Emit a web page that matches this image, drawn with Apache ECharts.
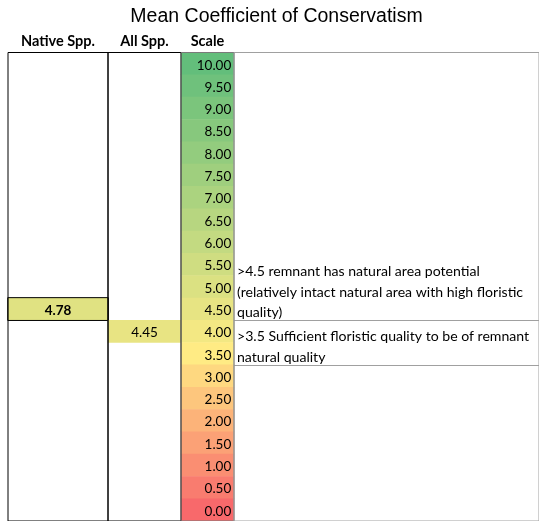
<!DOCTYPE html>
<html>
<head>
<meta charset="utf-8">
<script src="https://cdn.jsdelivr.net/npm/echarts@6/dist/echarts.min.js"></script>
<style>
html,body{margin:0;padding:0;background:#fff;}
#chart{width:539px;height:521px;}
</style>
</head>
<body>
<div id="chart"></div>
<script>
const chartTitle = 'Mean Coefficient of Conservatism';
const columns = ['Native Spp.', 'All Spp.', 'Scale'];
const scaleLabels = ['10.00','9.50','9.00','8.50','8.00','7.50','7.00','6.50','6.00','5.50','5.00','4.50','4.00','3.50','3.00','2.50','2.00','1.50','1.00','0.50','0.00'];
const scaleValues = [10, 9.5, 9, 8.5, 8, 7.5, 7, 6.5, 6, 5.5, 5, 4.5, 4, 3.5, 3, 2.5, 2, 1.5, 1, 0.5, 0];
const nativeSpp = [4.78];
const allSpp = [4.45];
// each note: [top row, bottom row] of the cell it sits in
const noteSpans = [['4.50', '4.50'], ['4.00', '3.50']];
const noteLines = [
  ['>4.5 remnant has natural area potential', '(relatively intact natural area with high floristic', 'quality)'],
  ['>3.5 Sufficient floristic quality to be of remnant', 'natural quality']
];
const noteBoxed = [false, true];

// Excel-like 3 colour scale
const colorStops = [[0, [248, 105, 107]], [3.5, [255, 235, 132]], [10, [99, 190, 123]]];
function cellColor(v) {
  let a = colorStops[0], b = colorStops[colorStops.length - 1];
  for (let i = 0; i < colorStops.length - 1; i++) {
    if (v >= colorStops[i][0] && v <= colorStops[i + 1][0]) { a = colorStops[i]; b = colorStops[i + 1]; break; }
  }
  const t = (v - a[0]) / (b[0] - a[0]);
  const c = a[1].map((x, k) => Math.round(x + (b[1][k] - x) * t));
  return 'rgb(' + c.join(',') + ')';
}
function rowOf(v) { return scaleValues.findIndex(s => s <= v); }

const FONT = 'Lato';
const TOP = 52.5, H = 472.5;
const grids = [
  {left: 8, width: 100, top: TOP, height: H, show: true, borderColor: '#000', borderWidth: 1, z: 5},
  {left: 108, width: 73, top: TOP, height: H, show: true, borderColor: '#000', borderWidth: 1, z: 5},
  {left: 181, width: 53, top: TOP, height: H, show: true, borderColor: '#7a7a7a', borderWidth: 1, z: 5},
  {left: 234, width: 320, top: TOP, height: H, show: true, borderColor: '#a0a0a0', borderWidth: 1, z: 5}
];
const xAxes = [0, 1, 2, 3].map(i => ({
  type: 'category', gridIndex: i, position: 'top',
  data: i < 3 ? [columns[i]] : [''],
  axisLine: {show: false}, axisTick: {show: false}, splitLine: {show: false},
  axisLabel: {show: i < 3, fontFamily: FONT, fontWeight: 'bold', fontSize: 14.5, color: '#000', margin: 4}
}));
const yAxes = [0, 1, 2, 3].map(i => ({
  type: 'category', gridIndex: i, inverse: true, data: scaleLabels,
  axisLine: {show: false}, axisTick: {show: false}, axisLabel: {show: false}, splitLine: {show: false}
}));

const labelBase = {show: true, fontFamily: FONT, fontSize: 13.5, color: '#000', offset: [0, 1.5]};

const series = [
  {
    type: 'heatmap', xAxisIndex: 0, yAxisIndex: 0,
    data: nativeSpp.map(v => ({value: [0, rowOf(v), v], itemStyle: {color: cellColor(v), borderColor: '#000', borderWidth: 1}})),
    label: Object.assign({}, labelBase, {fontWeight: 'bold', formatter: p => p.value[2].toFixed(2)}),
    emphasis: {disabled: true}
  },
  {
    type: 'heatmap', xAxisIndex: 1, yAxisIndex: 1,
    data: allSpp.map(v => ({value: [0, rowOf(v), v], itemStyle: {color: cellColor(v)}})),
    label: Object.assign({}, labelBase, {formatter: p => p.value[2].toFixed(2)}),
    emphasis: {disabled: true}
  },
  {
    type: 'heatmap', xAxisIndex: 2, yAxisIndex: 2,
    data: scaleValues.map((v, i) => ({value: [0, i, v], itemStyle: {color: cellColor(v)}})),
    label: Object.assign({}, labelBase, {position: 'insideRight', distance: 3, formatter: p => scaleLabels[p.value[1]]}),
    emphasis: {disabled: true}
  },
  {
    type: 'custom', xAxisIndex: 3, yAxisIndex: 3,
    data: noteSpans.map((s, i) => [0, scaleLabels.indexOf(s[0]), scaleLabels.indexOf(s[1]), i]),
    renderItem: function (params, api) {
      const r0 = api.value(1), r1 = api.value(2), n = api.value(3);
      const h = api.size([0, 1])[1];
      const top = api.coord([0, r0])[1] - h / 2;
      const bottom = api.coord([0, r1])[1] + h / 2;
      const cs = params.coordSys;
      const lines = noteLines[n];
      const LH = 20.5;
      const children = lines.map((t, k) => ({
        type: 'text',
        style: {text: t, x: cs.x + 3, y: bottom + 2.5 - LH * (lines.length - k - 0.5), align: 'left', verticalAlign: 'middle',
                font: '14.1px ' + FONT, fill: '#000'}
      }));
      if (noteBoxed[n]) {
        [top, bottom].forEach(y => {
          const yy = Math.round(y) + 0.5;
          children.push({type: 'line', shape: {x1: cs.x, y1: yy, x2: cs.x + cs.width, y2: yy},
                         style: {stroke: '#a0a0a0', lineWidth: 1}});
        });
      }
      return {type: 'group', children: children};
    }
  }
];

const chart = echarts.init(document.getElementById('chart'), null, {renderer: 'canvas'});
chart.setOption({
  animation: false,
  graphic: [{type: 'text', x: 276.5, y: 17, style: {text: chartTitle, font: '19.5px "Liberation Sans"', fill: '#000', align: 'center', verticalAlign: 'middle'}}],
  grid: grids,
  xAxis: xAxes,
  yAxis: yAxes,
  series: series
});
</script>
</body>
</html>
